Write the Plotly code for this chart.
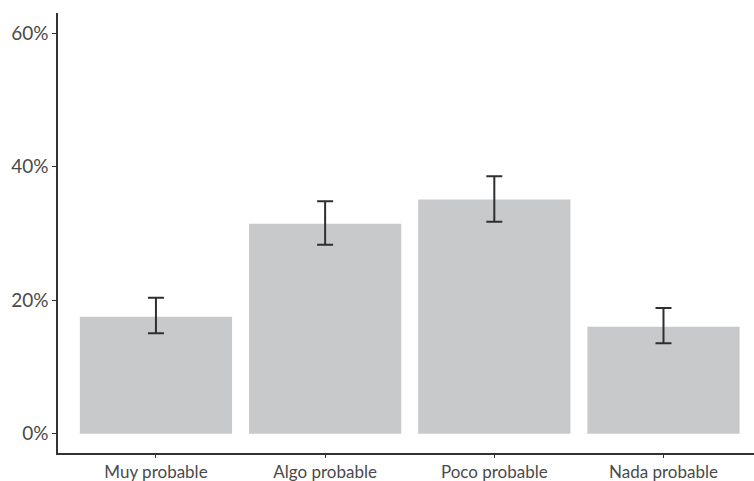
import plotly.graph_objects as go

# Survey response categories and estimated shares (%)
categories = ["Muy probable", "Algo probable", "Poco probable", "Nada probable"]
shares = [17.5, 31.45, 35.05, 16.0]
# Confidence interval bounds (%)
ci_upper = [20.35, 34.8, 38.55, 18.8]
ci_lower = [15.05, 28.3, 31.75, 13.55]

tick_vals = [0, 20, 40, 60]
tick_text = ["0%", "20%", "40%", "60%"]

err_plus = [u - s for u, s in zip(ci_upper, shares)]
err_minus = [s - l for s, l in zip(shares, ci_lower)]

fig = go.Figure(
    go.Bar(
        x=categories,
        y=shares,
        width=0.9,
        marker=dict(color="#c8c9cb", line=dict(width=0)),
        error_y=dict(
            type="data",
            symmetric=False,
            array=err_plus,
            arrayminus=err_minus,
            color="#2f2f2f",
            thickness=2,
            width=8,
        ),
    )
)

font_family = "Lato, 'Open Sans', sans-serif"

fig.update_layout(
    width=754,
    height=481,
    margin=dict(l=58, r=0, t=13, b=28),
    plot_bgcolor="white",
    paper_bgcolor="white",
    showlegend=False,
    xaxis=dict(
        range=[-0.579, 3.535],
        automargin=False,
        showline=True,
        linecolor="#333333",
        linewidth=1.5,
        ticks="outside",
        ticklen=3,
        tickcolor="#333333",
        tickfont=dict(family=font_family, size=17, color="#4a4a4a"),
        showgrid=False,
        zeroline=False,
    ),
    yaxis=dict(
        range=[-2.9, 63.0],
        automargin=False,
        tickvals=tick_vals,
        ticktext=tick_text,
        showline=True,
        linecolor="#333333",
        linewidth=1.5,
        ticks="outside",
        ticklen=4,
        tickcolor="#333333",
        tickfont=dict(family=font_family, size=19, color="#4a4a4a"),
        showgrid=False,
        zeroline=False,
    ),
)

fig.write_html("out.html")
